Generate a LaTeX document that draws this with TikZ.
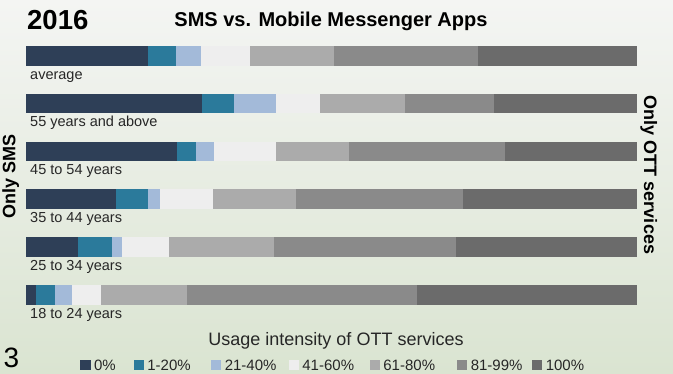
\documentclass[tikz,border=0pt]{standalone}
\usepackage{fontspec}
\setmainfont{Liberation Sans}
\usetikzlibrary{positioning}

\definecolor{pct0}{HTML}{2E3F57}
\definecolor{pct1}{HTML}{2B7A9B}
\definecolor{pct2}{HTML}{A3BAD9}
\definecolor{pct3}{HTML}{EEEEEE}
\definecolor{pct4}{HTML}{ABABAB}
\definecolor{pct5}{HTML}{8A8A8A}
\definecolor{pct6}{HTML}{6B6B6B}
\definecolor{bgtop}{HTML}{F4F5F3}
\definecolor{bgbottom}{HTML}{DAE4D1}

\tikzset{
  agelabel/.style={anchor=base west, inner sep=0pt, text=black!85,
    font=\fontsize{14.5}{16}\selectfont},
  sidelabel/.style={anchor=base, inner sep=0pt, font=\fontsize{18}{20}\selectfont\bfseries},
  keybox/.style={minimum size=10.5pt, inner sep=0pt, anchor=north west},
  keytext/.style={inner sep=0pt, text=black!85, font=\fontsize{15}{17}\selectfont}
}

\begin{document}
\begin{tikzpicture}[x=1pt,y=-1pt]
    \shade[top color=bgtop, bottom color=bgbottom] (0,0) rectangle (673,373);
    \useasboundingbox (0,0) rectangle (673,373);

    % headings
    \node[anchor=base west, inner sep=0pt, font=\fontsize{27.5}{30}\selectfont\bfseries] (year) at (27,29.5) {2016};
    \node[anchor=base, inner sep=0pt, font=\fontsize{20}{22}\selectfont\bfseries] (title) at (331,26.7) {SMS vs. Mobile Messenger Apps};
    \node[sidelabel, rotate=90] (onlysms) at (15.5,176) {Only SMS};
    \node[sidelabel, rotate=-90] (onlyott) at (644,175) {Only OTT services};

    % bars: top / label / name / segment borders
    \foreach \top/\lab/\na/\xa/\xb/\xc/\xd/\xe/\xf in {
        46/average/avg/148.0/175.9/200.7/249.5/334.3/477.7,
        93.8/55 years\ and\ above/55/202.0/233.7/275.6/319.7/404.5/494.0,
        141.6/45 to 54 years/45/176.7/196.0/214.4/275.6/349.3/504.7,
        189.4/35 to 44 years/35/116.3/148.4/160.0/212.7/295.7/463.2,
        237.2/25 to 34 years/25/77.8/111.7/121.9/168.6/273.5/456.3,
        285/18 to 24 years/18/35.8/54.7/72.2/100.9/187.0/416.9} {
        \foreach \l/\r/\col in {26/\xa/pct0, \xa/\xb/pct1, \xb/\xc/pct2, \xc/\xd/pct3,
                                \xd/\xe/pct4, \xe/\xf/pct5, \xf/637/pct6}
            \fill[\col] (\l,\top) rectangle (\r,\top+19.5);
        \node[agelabel] (lab\na) at (30,\top+33) {\lab};
    }

    % legend
    \node[anchor=base, inner sep=0pt, text=black!85, font=\fontsize{18}{20}\selectfont] (axis) at (336,345) {Usage intensity of OTT services};
    \node[anchor=base west, inner sep=0pt, font=\fontsize{28}{30}\selectfont] (page) at (3.5,367.5) {3};
    \foreach \x/\col/\txt [count=\k] in {80/pct0/0\%, 133.3/pct1/1-20\%, 210.7/pct2/21-40\%,
            288.3/pct3/41-60\%, 369.3/pct4/61-80\%, 456.7/pct5/81-99\%, 531.7/pct6/100\%} {
        \node[keybox, fill=\col] (key\k) at (\x,359.5) {};
        \node[keytext, right=3pt of key\k.south east, anchor=base west] (keylab\k) {\txt};
    }
\end{tikzpicture}
\end{document}
